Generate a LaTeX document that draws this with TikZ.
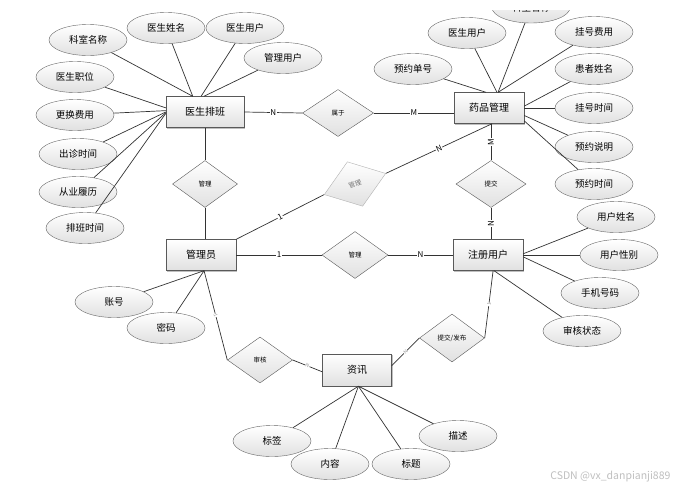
\documentclass[tikz,border=0pt]{standalone}
\usepackage{fontspec}
\setmainfont{Noto Sans CJK SC}
\usetikzlibrary{shapes.geometric,shadows}

\begin{document}
\begin{tikzpicture}[x=1pt,y=-1pt,
  entity/.style={draw=black!65,minimum width=70pt,minimum height=31pt,inner sep=0,
    top color=white,bottom color=black!12,
    drop shadow={shadow xshift=1pt,shadow yshift=-1pt,opacity=.25,fill=black},
    font=\fontsize{10}{12}\selectfont},
  attr/.style={draw=black!60,ellipse,minimum width=78pt,minimum height=31pt,inner sep=0,
    top color=white,bottom color=black!12,font=\fontsize{9.5}{11}\selectfont},
  rel/.style={draw=black!65,diamond,minimum width=65pt,minimum height=47pt,inner sep=0,
    top color=white,bottom color=black!12,font=\fontsize{6.5}{7}\selectfont},
  link/.style={draw=black!80,line width=.7pt},
  card/.style={fill=white,inner sep=.5pt,font=\fontsize{8}{9}\selectfont},
  tick/.style={fill=white,inner sep=.3pt,text=black!40,font=\fontsize{5}{6}\selectfont}]
\useasboundingbox[fill=white] (0,0) rectangle (686,491);
\begin{scope}
\clip (0,10) rectangle (686,491);

% entities
\node[entity,minimum width=78pt] (doc) at (205,112) {医生排班};
\node[entity] (drug) at (489,108) {药品管理};
\node[entity] (admin) at (201,255) {管理员};
\node[entity] (user) at (488,255) {注册用户};
\node[entity,minimum width=69pt,minimum height=32pt] (info) at (357,370) {资讯};

% relationships
\node[rel] (manage) at (205,184) {管理};
\node[rel,minimum width=71pt] (belong) at (338,113) {属于};
\node[rel,rotate=19,draw=black!30,text=black!55] (oversee) at (355,184) {管理};
\node[rel,minimum width=70pt] (submit) at (491,184) {提交};
\node[rel,minimum width=66pt] (handle) at (355,255) {管理};
\node[rel,minimum height=48pt] (publish) at (452,338) {提交/发布};
\node[rel,minimum height=46pt] (audit) at (260,360) {审核};

% attributes
\foreach \n/\x/\y/\t/\a in {dept/88/40/科室名称/128, dname/166/28/医生姓名/128,
  duser/245/28/医生用户/104, muser/283/58/管理用户/94, post/75/77/医生职位/174,
  fee/75/115/更换费用/178, visit/78/154/出诊时间/180, career/78/192/从业履历/181,
  sched/85/228/排班时间/182} {
 \node[attr] (\n) at (\x,\y) {\t};
 \draw[link] (\n) -- (doc.\a);
}
\foreach \n/\x/\y/\t/\a in {dept2/531/7.5/科室名称/60, duser2/467/33/医生用户/63,
  rfee/594/32/挂号费用/60, orderno/413/69/预约单号/101, pname/594/69/患者姓名/3,
  rtime/594/108/挂号时间/0, note/594/147/预约说明/-12, otime/594/184/预约时间/-20} {
 \node[attr] (\n) at (\x,\y) {\t};
 \draw[link] (\n) -- (drug.\a);
}
\foreach \n/\x/\y/\t/\a in {uname/616/217/用户姓名/2, usex/619/255/用户性别/0,
  phone/600/293/手机号码/-3, state/582/331/审核状态/-69} {
 \node[attr] (\n) at (\x,\y) {\t};
 \draw[link] (\n) -- (user.\a);
}
\foreach \n/\x/\y/\t in {acct/114/302/账号, pwd/166/328/密码} {
 \node[attr] (\n) at (\x,\y) {\t};
 \draw[link] (\n) -- (admin.-79);
}
\foreach \n/\x/\y/\t in {tag/272/441/标签, body/330/464/内容, head/411/464/标题, desc/458/436/描述} {
 \node[attr] (\n) at (\x,\y) {\t};
 \draw[link] (\n) -- (info.-85);
}

% connectors
\draw[link] (doc.east) -- node[card]{N} (belong.west);
\draw[link] (belong.east) -- node[card]{M} (belong.east -| drug.west);
\draw[link] (doc.south) -- (manage.north);
\draw[link] (manage.south) -- (manage.south |- admin.north);
\draw[link] (admin.north east) -- node[card,sloped]{1} (oversee.west);
\draw[link] (oversee.east) -- node[card,sloped]{N} (drug.-79);
\draw[link] (submit.north) -- node[card,rotate=90]{M} (submit.north |- drug.south);
\draw[link] (submit.south) -- node[card,rotate=90]{N} (submit.south |- user.north);
\draw[link] (admin.east) -- node[card]{1} (handle.west);
\draw[link] (handle.east) -- node[card]{N} (user.west);
\draw[link] (admin.-79) -- node[tick,sloped]{1} (audit.west);
\draw[link] (audit.east) -- node[tick,sloped]{N} (info.183);
\draw[link] (user.-72) -- node[tick,sloped]{1} (publish.east);
\draw[link] (publish.west) -- node[tick,sloped]{N} (info.7);

\node[text=black!25,anchor=east,font=\fontsize{10.5}{12}\selectfont] (mark) at (674,477) {CSDN @vx\_danpianji889};
\end{scope}
\end{tikzpicture}
\end{document}
